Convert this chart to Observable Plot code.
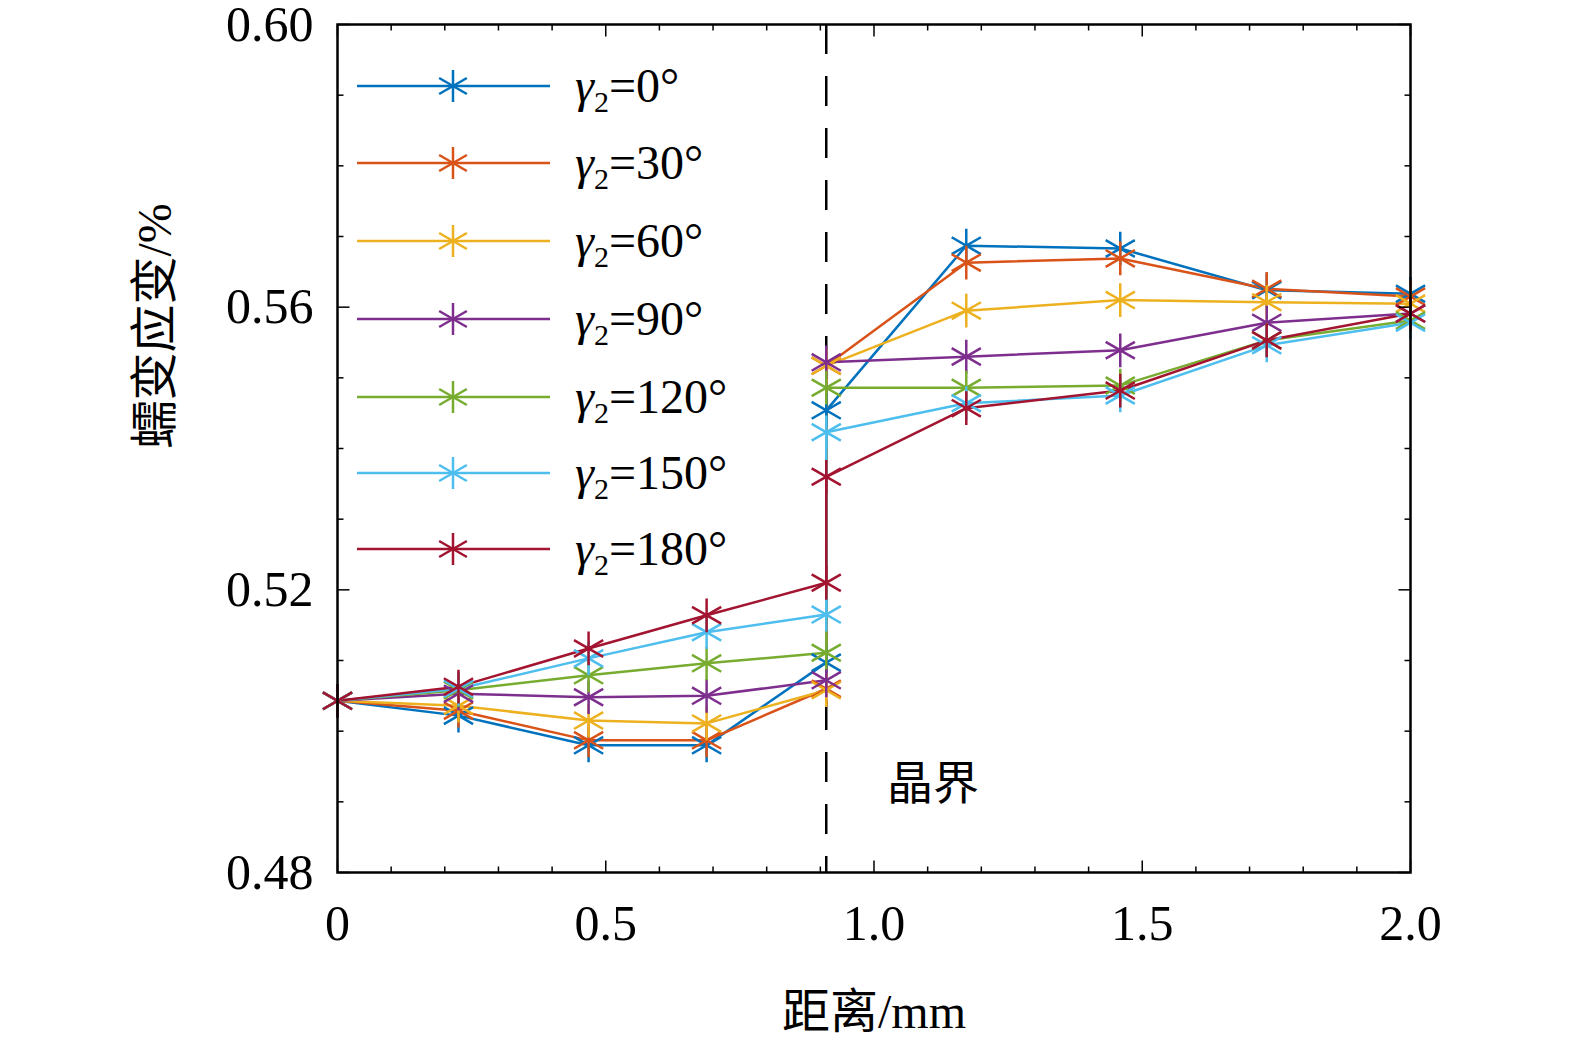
<!DOCTYPE html>
<html><head><meta charset="utf-8">
<script src="https://cdn.jsdelivr.net/npm/d3@7"></script>
<script src="https://cdn.jsdelivr.net/npm/@observablehq/plot@0.6"></script>
<style>
html,body{margin:0;background:#fff;overflow:hidden;}
#wrap{position:relative;width:1575px;height:1051px;}
#wrap svg{max-width:none !important;}
#legend{position:absolute;left:0;top:0;}
</style></head><body>
<div id="wrap"></div>
<script>
const xs = [0, 0.2255, 0.468, 0.688, 0.911, 0.911, 1.172, 1.459, 1.732, 2.0];
const names = ["0°","30°","60°","90°","120°","150°","180°"];
const colors = ["#0072BD","#D95319","#EDB120","#7E2F8E","#77AC30","#4DBEEE","#A2142F"];
const s0   = [0.5043,0.5022,0.4980,0.4980,0.5097,0.5454,0.5687,0.5683,0.5624,0.5619];
const s30  = [0.5043,0.5029,0.4987,0.4987,0.5060,0.5517,0.5663,0.5669,0.5626,0.5615];
const s60  = [0.5043,0.5036,0.5015,0.5011,0.5058,0.5517,0.5595,0.5610,0.5607,0.5605];
const s90  = [0.5043,0.5053,0.5048,0.5050,0.5072,0.5522,0.5530,0.5539,0.5578,0.5591];
const s120 = [0.5043,0.5058,0.5079,0.5096,0.5111,0.5486,0.5486,0.5489,0.5553,0.5581];
const s150 = [0.5043,0.5060,0.5103,0.5140,0.5165,0.5423,0.5464,0.5475,0.5546,0.5578];
const s180 = [0.5043,0.5063,0.5117,0.5164,0.5210,0.5360,0.5457,0.5482,0.5553,0.5591];
const series = [s0,s30,s60,s90,s120,s150,s180];
const yTicks = [0.48,0.52,0.56,0.60];
const xTicks = [0,0.5,1.0,1.5,2.0];
const xTickLabels = ["0","0.5","1.0","1.5","2.0"];
const boundaryX = 0.911;

const rows = [];
series.forEach((s,i)=>s.forEach((v,j)=>rows.push({x:xs[j],y:v,k:names[i],c:colors[i]})));

const yMinor = d3.range(0.48,0.6001,0.01).map(v=>+v.toFixed(2));
const xMinor = d3.range(0,2.0001,0.1).map(v=>+v.toFixed(1));
const px = 2.0/1073, py = 0.12/848;
const serif = "Liberation Serif, Times New Roman, serif";

const tickRules = [];
yMinor.forEach(v=>{const L=(yTicks.some(t=>Math.abs(t-v)<1e-6)?12:6)*px;
  tickRules.push({x1:0,x2:L,y1:v,y2:v},{x1:2-L,x2:2,y1:v,y2:v});});
xMinor.forEach(v=>{const L=(xTicks.some(t=>Math.abs(t-v)<1e-6)?12:6)*py;
  tickRules.push({x1:v,x2:v,y1:0.48,y2:0.48+L},{x1:v,x2:v,y1:0.6-L,y2:0.6});});

const chart = Plot.plot({
  width:1575,height:1051,marginLeft:337,marginRight:165,marginTop:24,marginBottom:179,
  x:{domain:[0,2]},y:{domain:[0.48,0.60]},
  style:{fontFamily:serif,background:"#fff",overflow:"visible"},
  marks:[
    Plot.ruleX([boundaryX],{stroke:"#000",strokeWidth:2.5,strokeDasharray:"30,22"}),
    Plot.line(rows,{x:"x",y:"y",z:"k",stroke:"c",strokeWidth:2.5}),
    Plot.dot(rows,{x:"x",y:"y",stroke:"c",symbol:"asterisk",r:16,strokeWidth:2.5}),
    Plot.link(tickRules,{x1:"x1",x2:"x2",y1:"y1",y2:"y2",stroke:"#000",strokeWidth:1.5}),
    Plot.frame({stroke:"#000",strokeWidth:2.5}),
    Plot.axisY({ticks:yTicks,tickSize:0,tickPadding:24,tickFormat:d=>d.toFixed(2),fontSize:50,label:null}),
    Plot.axisX({ticks:xTicks,tickSize:0,tickPadding:32,tickFormat:(d,i)=>xTickLabels[i],fontSize:50,label:null}),
    Plot.text(["距离/mm"],{frameAnchor:"bottom",dy:155,fontSize:48,fontFamily:"Liberation Serif, Noto Sans CJK SC"}),
    Plot.text(["蠕变应变/%"],{frameAnchor:"left",dx:-182,rotate:-90,fontSize:48,fontFamily:"Liberation Serif, Noto Sans CJK SC"}),
    Plot.text(["晶界"],{x:1.11,y:0.4925,fontSize:46,fontFamily:"Noto Sans CJK SC"})
  ]
});
document.getElementById("wrap").appendChild(chart);

const leg=d3.select("#wrap").append("svg").attr("id","legend").attr("width",800).attr("height",620);
const ys=[86,163,241,319,397,473,549];
names.forEach((n,i)=>{
  const g=leg.append("g").attr("transform",`translate(0,${ys[i]})`);
  g.append("line").attr("x1",357).attr("x2",550).attr("stroke",colors[i]).attr("stroke-width",2.5);
  [90,30,150].forEach(a=>{const r=16,t=a*Math.PI/180;
    g.append("line").attr("x1",453-r*Math.cos(t)).attr("y1",-r*Math.sin(t)).attr("x2",453+r*Math.cos(t)).attr("y2",r*Math.sin(t)).attr("stroke",colors[i]).attr("stroke-width",2.5);});
  const t=g.append("text").attr("x",575).attr("y",16).attr("font-family",serif).attr("font-size",48);
  t.append("tspan").attr("font-style","italic").text("γ");
  t.append("tspan").attr("font-size",30).attr("dy",10).text("2");
  t.append("tspan").attr("dy",-10).text("="+n);
});
</script></body></html>
